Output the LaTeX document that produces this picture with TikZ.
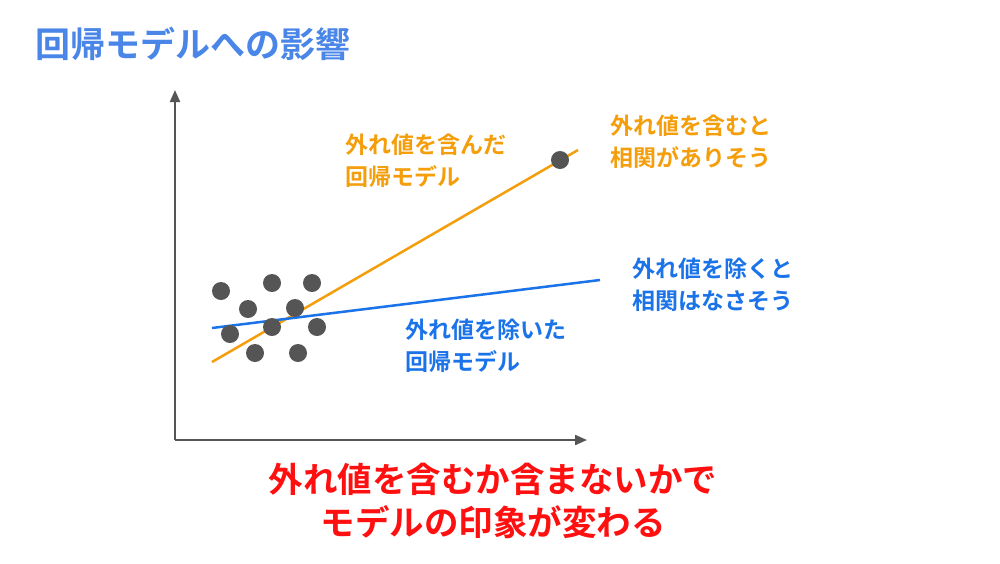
\documentclass[tikz,border=0pt]{standalone}
\usepackage{fontspec}
\newfontfamily\cjk{Noto Sans CJK JP}[BoldFont={Noto Sans CJK JP Bold}]
\usetikzlibrary{arrows.meta}
\definecolor{tblue}{HTML}{4A86E8}
\definecolor{lblue}{HTML}{1A73E8}
\definecolor{torange}{HTML}{F59E0B}
\definecolor{tred}{HTML}{FF1010}
\definecolor{dgray}{HTML}{555555}
\begin{document}
\begin{tikzpicture}[x=1pt,y=-1pt,
  lab/.style={font=\cjk\bfseries\fontsize{23}{32}\selectfont,align=left,anchor=west,inner sep=0},
  dot/.style={circle,fill=dgray,minimum size=18pt,inner sep=0},
  axis/.style={dgray,line width=2pt,-{Triangle[length=12pt,width=10pt]}}]
\useasboundingbox[fill=white] (0,0) rectangle (1000,563);
\node[anchor=west,inner sep=0,text=tblue,font=\cjk\bfseries\fontsize{35}{37}\selectfont] (title) at (35,44) {回帰モデルへの影響};
\coordinate (o) at (175,440);
\coordinate (yt) at (175,90);
\coordinate (xt) at (587,440);
\draw[axis] (o) -- (yt);
\draw[axis] (o) -- (xt);
\coordinate (oa) at (212,362); \coordinate (ob) at (578,150);
\coordinate (ba) at (212,328); \coordinate (bb) at (600,280);
\draw[torange,line width=2.5pt] (oa) -- (ob);
\draw[lblue,line width=2.5pt] (ba) -- (bb);
\foreach \n/\x/\y in {d1/221/291,d2/272/283,d3/312/283,d4/248/309,d5/295/308,d6/230/334,d7/272/327,d8/317/327,d9/255/353,d10/298/353,d11/560/160}
  \node[dot] (\n) at (\x,\y) {};
\node[lab,text=torange] (l1) at (345,161) {外れ値を含んだ\\回帰モデル};
\node[lab,text=torange] (l2) at (610,142) {外れ値を含むと\\相関がありそう};
\node[lab,text=lblue] (l3) at (632,285) {外れ値を除くと\\相関はなさそう};
\node[lab,text=lblue] (l4) at (405,346) {外れ値を除いた\\回帰モデル};
\node[inner sep=0,text=tred,align=center,font=\cjk\bfseries\fontsize{34.5}{43}\selectfont] (msg) at (493,501) {外れ値を含むか含まないかで\\モデルの印象が変わる};
\end{tikzpicture}
\end{document}
